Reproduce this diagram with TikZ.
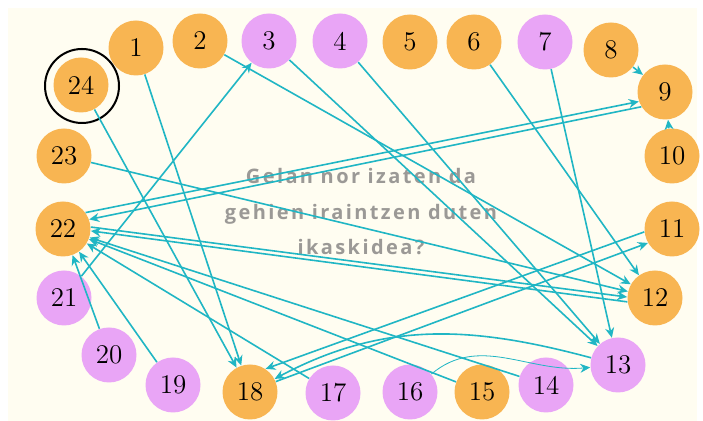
\documentclass[tikz,border=0pt]{standalone}
\usepackage{fontspec}
\newfontfamily\questionfont[LetterSpace=12]{Open Sans}
\usetikzlibrary{arrows.meta}
\definecolor{peach}{RGB}{248,181,82}
\definecolor{lilac}{RGB}{233,165,246}
\definecolor{linkcyan}{RGB}{32,182,196}
\definecolor{cream}{RGB}{255,253,241}
\definecolor{questiongray}{RGB}{155,153,150}

\begin{document}
\begin{tikzpicture}[
  x=0.5pt, y=0.5pt, >={Stealth[length=5pt,width=4.5pt]}, font=\fontsize{13.5}{16}\selectfont,
  peachnode/.style={circle,fill=peach,minimum size=27.5pt,inner sep=0pt},
  lilacnode/.style={circle,fill=lilac,minimum size=27.5pt,inner sep=0pt},
  link/.style={->,draw=linkcyan,line width=0.8pt},
  question/.style={align=center,text=questiongray,font=\questionfont\bfseries\fontsize{10}{17.75}\selectfont},
]
  \fill[white] (0,0) rectangle (703,421);
  \fill[cream] (8,0) rectangle (697,413);

  \node[peachnode] (n1) at (136,373) {1};
  \node[peachnode] (n2) at (200,380) {2};
  \node[lilacnode] (n3) at (269,380) {3};
  \node[lilacnode] (n4) at (340,380) {4};
  \node[peachnode] (n5) at (410,379) {5};
  \node[peachnode] (n6) at (474,379) {6};
  \node[lilacnode] (n7) at (545,379) {7};
  \node[peachnode] (n8) at (611,371) {8};
  \node[peachnode] (n9) at (665,329) {9};
  \node[peachnode] (n10) at (672,265) {10};
  \node[peachnode] (n11) at (672,192) {11};
  \node[peachnode] (n12) at (655,123) {12};
  \node[lilacnode] (n13) at (618,56) {13};
  \node[lilacnode] (n14) at (546,36) {14};
  \node[peachnode] (n15) at (482,29) {15};
  \node[lilacnode] (n16) at (410,29) {16};
  \node[lilacnode] (n17) at (333,28) {17};
  \node[peachnode] (n18) at (250,29) {18};
  \node[lilacnode] (n19) at (173,36) {19};
  \node[lilacnode] (n20) at (109,66) {20};
  \node[lilacnode] (n21) at (64,123) {21};
  \node[peachnode] (n22) at (63,192) {22};
  \node[peachnode] (n23) at (64,265) {23};
  \node[peachnode] (n24) at (81,336) {24};
  \node[circle,draw,line width=1pt,minimum size=37pt] (ring24) at (82,335) {};

  \node[question] (q) at (361,209) {Gelan nor izaten da\\gehien iraintzen duten\\ikaskidea?};

  % who names whom
  \draw[link] (n8) -- (n9);
  \draw[link] (n10) -- (n9);
  \draw[link] (n22.36) -- (n9.200);
  \draw[link] (n9.212) -- (n22.20);
  \draw[link] (n1) -- (n18);
  \draw[link] (n24) -- (n18);
  \draw[link] (n21) -- (n3);
  \draw[link] (n2) -- (n12);
  \draw[link] (n6) -- (n12);
  \draw[link] (n23) -- (n12);
  \draw[link] (n22.4) -- (n12.178);
  \draw[link] (n12.188) -- (n22.-4);
  \draw[link] (n3) -- (n13);
  \draw[link] (n4) -- (n13);
  \draw[link] (n7) -- (n13);
  \draw[link] (n11.186) -- (n18.56);
  \draw[link] (n18.22) -- (n11.210);
  \draw[link] (n13) to[out=165,in=28] (n18);
  \draw[link,thin] (n16) to[out=40,in=185] (n13);
  \draw[link] (n14) -- (n22);
  \draw[link] (n15) -- (n22);
  \draw[link] (n17) -- (n22);
  \draw[link] (n19) -- (n22);
  \draw[link] (n20) -- (n22);
\end{tikzpicture}
\end{document}
